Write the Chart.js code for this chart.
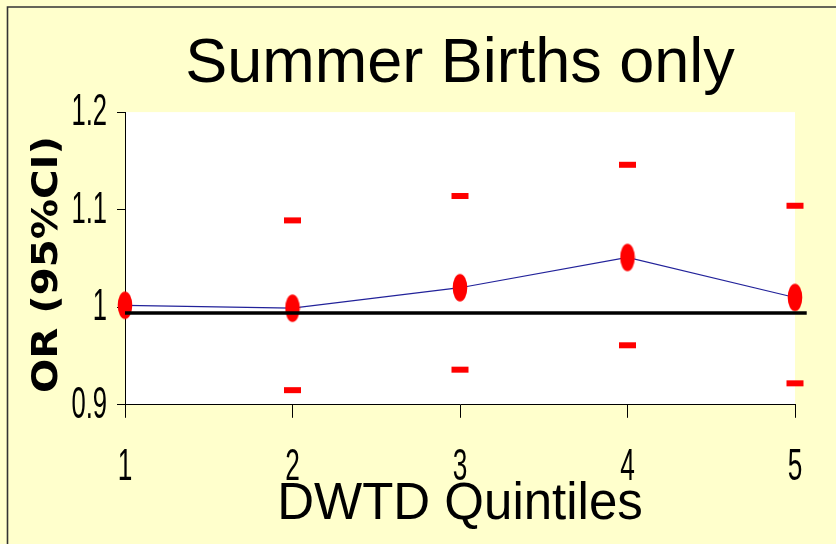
<!DOCTYPE html>
<html>
<head>
<meta charset="utf-8">
<script src="https://cdn.jsdelivr.net/npm/chart.js@4.4.0/dist/chart.umd.min.js"></script>
<style>
  html, body { margin: 0; padding: 0; background: #FFFFCC; }
  canvas { display: block; }
</style>
</head>
<body>
<canvas id="c" width="836" height="544"></canvas>
<script>
// ---- data ----
const quintiles = [1, 2, 3, 4, 5];
const xTickLabels = ['1', '2', '3', '4', '5'];
const oddsRatio = [1.002, 0.999, 1.020, 1.051, 1.010];
const ciUpper = [null, 1.089, 1.114, 1.146, 1.104];
const ciLower = [null, 0.915, 0.936, 0.961, 0.922];
const referenceValue = 0.994;
const referenceXRange = [1, 5.07];
const yTickValues = [0.9, 1.0, 1.1, 1.2];
const yTickLabels = ['0.9', '1', '1.1', '1.2'];
const chartTitle = 'Summer Births only';
const xTitle = 'DWTD Quintiles';
const yTitle = 'OR (95%CI)';

// ellipse marker
function makeEllipse() {
  const cv = document.createElement('canvas');
  cv.width = 16; cv.height = 30;
  const g = cv.getContext('2d');
  g.fillStyle = '#FF0000';
  g.beginPath();
  g.ellipse(8, 15, 7.3, 13.8, 0, 0, Math.PI * 2);
  g.fill();
  return cv;
}
const ellipse = makeEllipse();

function toPoints(xs, ys) { return xs.map((x, i) => ({ x: x, y: ys[i] })); }

function drawStretched(ctx, text, x, y, sx, sy, rot) {
  ctx.save();
  ctx.translate(x, y);
  if (rot) ctx.rotate(rot);
  ctx.scale(sx, sy);
  ctx.fillText(text, 0, 0);
  ctx.restore();
}

const background = {
  id: 'background',
  beforeDraw(chart) {
    const ctx = chart.ctx, a = chart.chartArea;
    ctx.save();
    ctx.fillStyle = '#FFFFCC';
    ctx.fillRect(0, 0, chart.width, chart.height);
    ctx.strokeStyle = '#333333';
    ctx.lineWidth = 1.6;
    ctx.beginPath();
    ctx.moveTo(7.5, chart.height + 2);
    ctx.lineTo(7.5, 7);
    ctx.lineTo(chart.width + 2, 7);
    ctx.stroke();
    ctx.fillStyle = '#FFFFFF';
    ctx.fillRect(a.left, a.top, a.right - a.left, a.bottom - a.top);
    ctx.restore();
  }
};

const stretchedLabels = {
  id: 'stretchedLabels',
  afterDraw(chart) {
    const ctx = chart.ctx, xs = chart.scales.x, ys = chart.scales.y;
    ctx.save();
    ctx.fillStyle = '#000000';
    ctx.textBaseline = 'middle';
    ctx.font = '32px "Liberation Sans Narrow", "Liberation Sans", sans-serif';
    ctx.textAlign = 'right';
    yTickValues.forEach((v, i) => {
      drawStretched(ctx, yTickLabels[i], 107, ys.getPixelForValue(v) + 1, 0.8, 1.38, 0);
    });
    ctx.textAlign = 'center';
    quintiles.forEach((q, i) => {
      drawStretched(ctx, xTickLabels[i], xs.getPixelForValue(q), 468, 0.82, 1.38, 0);
    });
    ctx.font = 'bold 35px "DejaVu Sans", sans-serif';
    drawStretched(ctx, yTitle, 48, (chart.chartArea.top + chart.chartArea.bottom) / 2 + 6, 1.15, 1, -Math.PI / 2);
    ctx.restore();
  }
};

new Chart(document.getElementById('c'), {
  type: 'line',
  data: {
    datasets: [
      {
        label: 'ref',
        data: [{ x: referenceXRange[0], y: referenceValue }, { x: referenceXRange[1], y: referenceValue }],
        borderColor: '#000000',
        borderWidth: 3.5,
        pointRadius: 0,
        clip: false,
        order: 0
      },
      {
        label: 'OR',
        data: toPoints(quintiles, oddsRatio),
        borderColor: '#22229A',
        borderWidth: 1.2,
        pointStyle: ellipse,
        pointRadius: 10,
        clip: false,
        order: 1
      },
      {
        label: 'upper',
        data: toPoints(quintiles, ciUpper),
        showLine: false,
        pointStyle: 'line',
        pointRadius: 8.5,
        pointBorderWidth: 6,
        borderColor: '#FF0000',
        backgroundColor: '#FF0000',
        clip: false,
        order: 2
      },
      {
        label: 'lower',
        data: toPoints(quintiles, ciLower),
        showLine: false,
        pointStyle: 'line',
        pointRadius: 8.5,
        pointBorderWidth: 6,
        borderColor: '#FF0000',
        backgroundColor: '#FF0000',
        clip: false,
        order: 2
      }
    ]
  },
  options: {
    responsive: false,
    animation: false,
    events: [],
    layout: { padding: { left: 117, right: 41, top: 0, bottom: 0 } },
    plugins: {
      legend: { display: false },
      tooltip: { enabled: false },
      title: {
        display: true,
        text: chartTitle,
        color: '#000000',
        fullSize: false,
        font: { family: '"Liberation Sans", Arial, sans-serif', size: 63, weight: 'normal' },
        padding: { top: 27, bottom: 9.5 }
      }
    },
    scales: {
      x: {
        type: 'linear',
        min: 1,
        max: 5,
        ticks: { display: false, stepSize: 1 },
        grid: { display: true, drawOnChartArea: false, drawTicks: true, tickLength: 13, color: '#000000', lineWidth: 1 },
        border: { display: true, color: '#000000', width: 1 },
        title: {
          display: true,
          text: xTitle,
          color: '#000000',
          font: { family: '"Liberation Sans", Arial, sans-serif', size: 51, weight: 'normal' },
          padding: { top: 57, bottom: 8 }
        }
      },
      y: {
        type: 'linear',
        min: 0.9,
        max: 1.2,
        ticks: { display: false, stepSize: 0.1 },
        grid: { display: true, drawOnChartArea: false, drawTicks: true, tickLength: 8, color: '#000000', lineWidth: 1 },
        border: { display: true, color: '#000000', width: 1 },
        title: { display: false }
      }
    }
  },
  plugins: [background, stretchedLabels]
});
</script>
</body>
</html>
